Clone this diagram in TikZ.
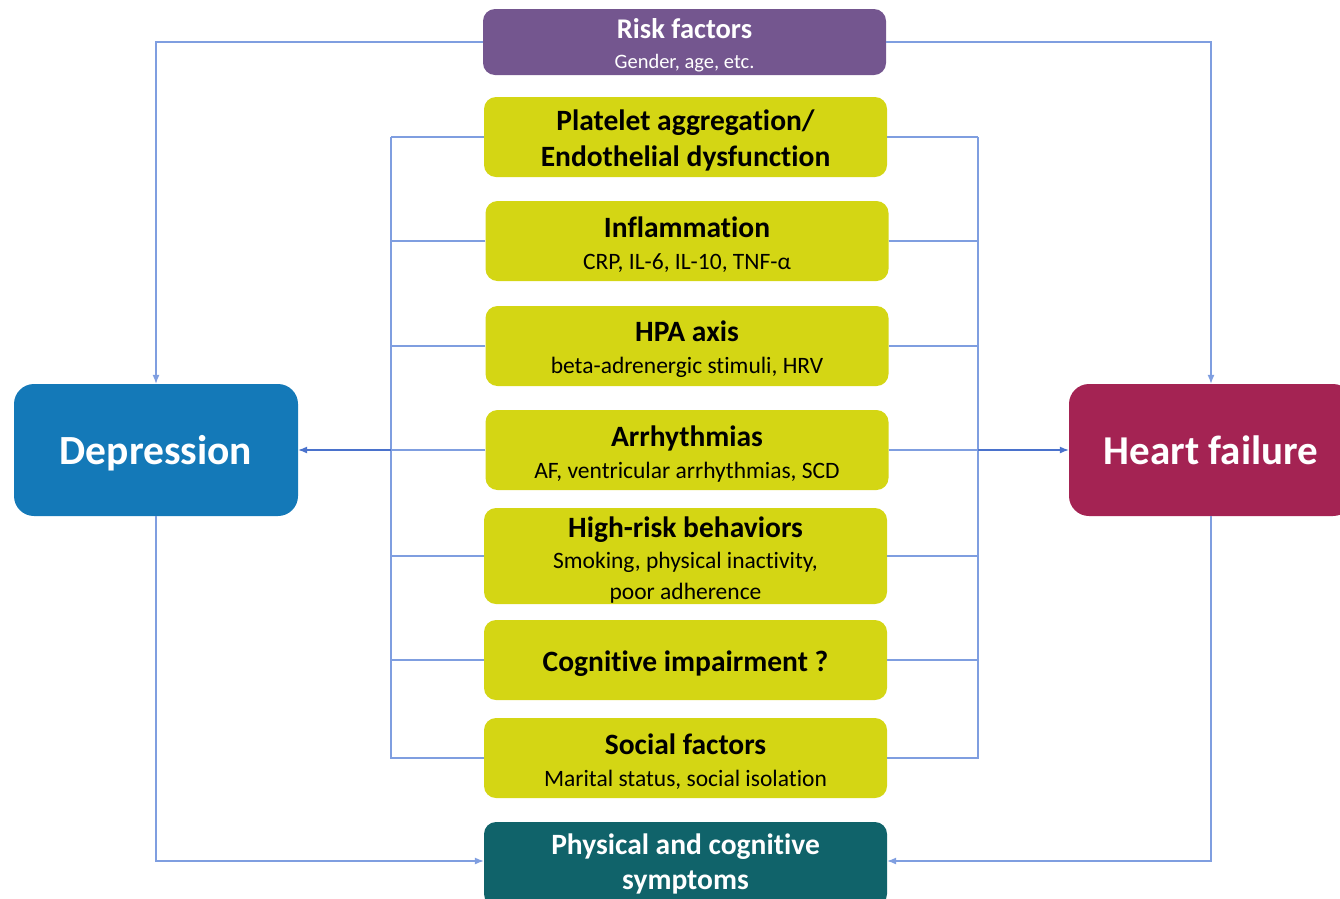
\documentclass[tikz,border=0pt]{standalone}
\usepackage{fontspec}
\setmainfont{Carlito}[Ligatures=NoCommon]
\usetikzlibrary{arrows.meta}
\definecolor{riskc}{HTML}{74568F}
\definecolor{yelc}{HTML}{D4D614}
\definecolor{depc}{HTML}{1479B8}
\definecolor{hfc}{HTML}{A42353}
\definecolor{physc}{HTML}{10636A}
\definecolor{linec}{HTML}{7F9EE0}
\definecolor{arrc}{HTML}{4A72CC}
\newcommand{\fs}[2]{\fontsize{#1}{#2}\selectfont}
\newcommand{\tp}[1]{\rule{0pt}{#1}}
\tikzset{
  box/.style={rounded corners=12pt, align=center, inner sep=0pt, minimum width=403, minimum height=80},
  ybox/.style={box, fill=yelc, text=black, font=\fs{23.5}{32}},
  ttl/.style={},
  wire/.style={draw=linec, line width=1.1pt},
  arr/.style={draw=arrc, line width=1.1pt, -{Latex[length=9pt,width=7pt]}},
}
\begin{document}
\begin{tikzpicture}[x=1pt,y=-1pt]
\useasboundingbox (0,0) rectangle (1340,898);
\clip (0,0) rectangle (1340,898);
% nodes
\node[box, fill=riskc, text=white, minimum height=66, font=\fs{20.5}{30}] (risk) at (684.5,42) {{\fs{28.5}{30}\bfseries\tp{27pt}Risk factors}\\Gender, age, etc.};
\node[ybox, font=\fs{29.5}{36}\bfseries] (plat) at (685.5,137) {\tp{27pt}Platelet aggregation/\\Endothelial dysfunction};
\node[ybox] (infl) at (687,241) {{\fs{29.5}{32}\bfseries\tp{28pt}Inflammation}\\CRP, IL-6, IL-10, TNF-α};
\node[ybox] (hpa) at (687,346) {{\fs{29.5}{32}\bfseries\tp{28pt}HPA axis}\\beta-adrenergic stimuli, HRV};
\node[ybox] (arr) at (687,450) {{\fs{29.5}{32}\bfseries\tp{28pt}Arrhythmias}\\AF, ventricular arrhythmias, SCD};
\node[ybox, minimum height=96, font=\fs{23.5}{31}] (beh) at (685.5,556) {{\fs{29.5}{31}\bfseries\tp{28pt}High-risk behaviors}\\Smoking, physical inactivity,\\poor adherence};
\node[ybox, font=\fs{29.5}{32}\bfseries] (cog) at (685.5,660) {\tp{28pt}Cognitive impairment ?};
\node[ybox] (soc) at (685.5,758) {{\fs{29.5}{32}\bfseries\tp{28pt}Social factors}\\Marital status, social isolation};
\node[box, fill=physc, text=white, minimum height=84, font=\fs{29.5}{35}\bfseries] (phys) at (685.5,864) {Physical and cognitive\\symptoms};
\node[box, fill=depc, text=white, rounded corners=20pt, minimum width=284, minimum height=132, font=\fs{41.5}{44}\bfseries] (dep) at (156,450) {\tp{36pt}Depression};
\node[box, fill=hfc, text=white, rounded corners=20pt, minimum width=284, minimum height=132, font=\fs{41}{44}\bfseries] (hf) at (1211,450) {\tp{30pt}Heart failure};
% bus coordinates
\coordinate (lt) at (391,137);
\coordinate (lb) at (391,759);
\coordinate (rt) at (978,137);
\coordinate (rb) at (978,759);
\draw[wire] (lt) -- (lb);
\draw[wire] (rt) -- (rb);
\foreach \n in {plat,infl,hpa,beh,cog,soc}{
  \draw[wire] (\n.west) -- (\n.west -| lt);
  \draw[wire] (\n.east) -- (\n.east -| rt);
}
\draw[wire] (arr.west) -- (arr.west -| lt);
\draw[wire] (arr.east) -- (arr.east -| rt);
\draw[arr] (arr.west -| lt) -- (dep.east);
\draw[arr] (arr.east -| rt) -- (hf.west);
% risk factors
\draw[arr, draw=linec] (risk.west) -| (dep.north);
\draw[arr, draw=linec] (risk.east) -| (hf.north);
% bottom
\coordinate (pl) at (phys.west |- 0,861);
\coordinate (pr) at (phys.east |- 0,861);
\draw[arr, draw=linec] (dep.south) |- (pl);
\draw[arr, draw=linec] (hf.south) |- (pr);
\end{tikzpicture}
\end{document}
